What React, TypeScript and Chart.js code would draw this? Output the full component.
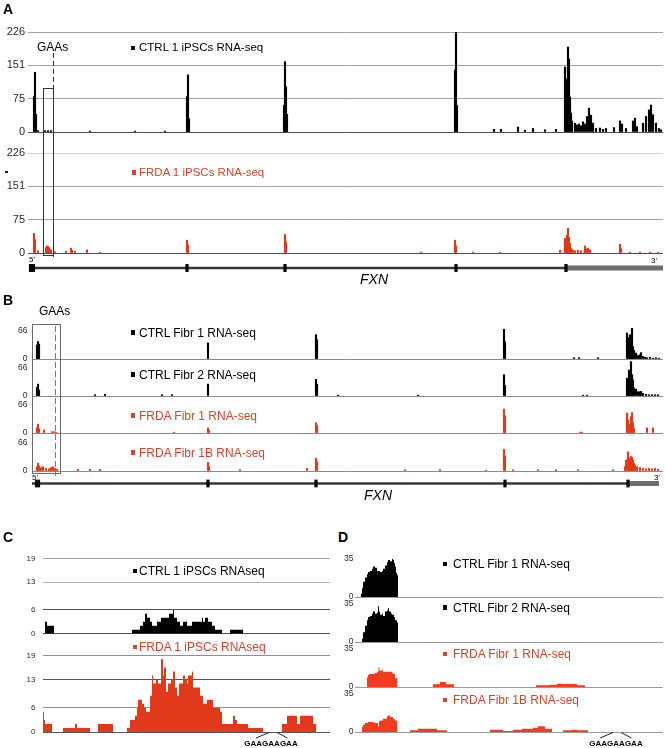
import React, { useEffect, useRef } from 'react';
import { Chart, registerables } from 'chart.js';

Chart.register(...registerables);

// ---------------- DATA ----------------
// Panel A: FXN locus coverage in iPSCs (browser bins along the gene)
const aTicks = [0, 75, 151, 226];
const aTrackNames = ['CTRL 1 iPSCs RNA-seq', 'FRDA 1 iPSCs RNA-seq'];
const aCtrlBins = [6, 7, 8, 10, 17, 20, 23, 62, 107, 137, 159, 160, 161, 256, 257, 258, 259, 427, 428, 429, 466, 473, 490, 497, 505, 517, 528, 537, 538, 539, 540, 541, 542, 543, 544, 547, 549, 551, 553, 555, 557, 559, 561, 563, 565, 568, 572, 575, 578, 586, 592, 594, 598, 605, 607, 609, 615, 618, 621, 623, 625, 628, 631, 633];
const aCtrlCov = [80, 135, 40, 3, 3, 3, 3, 2, 2, 2, 80, 129, 30, 60, 159, 102, 40, 140, 226, 60, 6, 6, 11, 4, 8, 5, 6, 147, 120, 79, 192, 165, 79, 43, 25, 20, 16, 18, 14, 23, 18, 35, 54, 38, 20, 8, 9, 6, 8, 10, 25, 18, 8, 25, 31, 12, 20, 35, 50, 61, 39, 20, 8, 5];
const aFrdaBins = [6, 7, 10, 18, 19, 20, 21, 22, 23, 27, 38, 43, 44, 47, 59, 72, 159, 160, 257, 258, 393, 427, 428, 445, 472, 532, 537, 538, 539, 540, 541, 542, 543, 545, 547, 550, 553, 557, 558, 560, 562, 592, 593, 602, 612, 622, 630];
const aFrdaCov = [44, 30, 5, 12, 16, 15, 12, 8, 6, 3, 4, 11, 6, 4, 7, 2, 29, 18, 42, 25, 2, 29, 16, 2, 2, 6, 33, 25, 40, 56, 35, 22, 11, 7, 5, 6, 5, 16, 9, 11, 7, 20, 10, 2, 2, 2, 2];
const aExons = [159, 257, 428, 538];

// Panel B: fibroblasts
const bTicks = [0, 66];
const bTrackNames = ['CTRL Fibr 1 RNA-seq', 'CTRL Fibr 2 RNA-seq', 'FRDA Fibr 1 RNA-seq', 'FRDA Fibr 1B RNA-seq'];
const b1Bins = [5, 6, 7, 176, 284, 285, 472, 473, 542, 547, 566, 595, 596, 597, 598, 599, 600, 601, 602, 604, 606, 608, 609, 611, 613, 615, 618, 621, 624, 627];
const b1Cov = [33, 41, 35, 38, 57, 45, 70, 40, 3, 3, 3, 61, 40, 50, 57, 40, 72, 29, 20, 14, 8, 10, 15, 6, 4, 3, 4, 2, 3, 2];
const b2Bins = [5, 6, 7, 63, 73, 130, 140, 176, 284, 285, 306, 386, 472, 473, 551, 555, 595, 596, 597, 598, 599, 600, 601, 602, 604, 606, 608, 609, 611, 614, 617, 620, 623, 626];
const b2Cov = [20, 28, 14, 3, 4, 3, 3, 28, 39, 28, 2, 2, 50, 25, 2, 2, 42, 35, 61, 45, 81, 50, 38, 19, 16, 10, 10, 11, 6, 4, 3, 3, 3, 3];
const b3Bins = [5, 6, 7, 12, 20, 22, 24, 142, 176, 177, 284, 285, 472, 473, 548, 550, 595, 596, 597, 598, 599, 600, 601, 602, 615, 621];
const b3Cov = [12, 21, 10, 7, 3, 3, 2, 2, 12, 6, 24, 18, 56, 40, 2, 2, 47, 31, 15, 20, 38, 48, 24, 10, 12, 12];
const b4Bins = [5, 6, 7, 9, 11, 14, 17, 19, 21, 23, 25, 46, 58, 68, 176, 177, 208, 275, 284, 285, 373, 408, 454, 472, 473, 481, 506, 524, 546, 581, 593, 594, 596, 597, 598, 599, 600, 601, 602, 603, 605, 608, 611, 614, 617, 620, 623, 626];
const b4Cov = [10, 18, 12, 8, 10, 6, 5, 8, 10, 6, 4, 4, 4, 4, 20, 10, 3, 6, 30, 22, 3, 3, 2, 51, 35, 3, 3, 3, 3, 3, 10, 26, 45, 30, 22, 34, 32, 26, 18, 14, 10, 8, 6, 5, 6, 5, 6, 4];
const bExons = [176, 284, 473, 596];

// Panel C: zoom on GAA region, iPSCs (step starts, coverage)
const cTicks = [0, 6, 13, 19];
const cTrackNames = ['CTRL 1 iPSCs RNAseq', 'FRDA 1 iPSCs RNAseq'];
const cCtrlPos = [2, 4, 11, 89, 97, 100, 102, 104, 107, 109, 114, 118, 126, 130, 131, 134, 137, 140, 144, 149, 159, 160, 162, 165, 169, 172, 179, 187, 200];
const cCtrlCov = [3, 2, 0, 1, 2, 3, 5, 4, 3, 2, 3, 4, 5, 6, 4, 3, 2, 3, 2, 3, 4, 3, 4, 3, 2, 1, 0, 1, 0];
const cFrdaPos = [0, 1, 2, 9, 20, 32, 34, 47, 55, 70, 84, 87, 92, 94, 95, 99, 101, 103, 107, 109, 110, 113, 115, 118, 120, 121, 123, 125, 128, 130, 132, 134, 136, 140, 142, 144, 145, 149, 150, 152, 157, 160, 164, 170, 177, 179, 190, 192, 194, 205, 220, 239, 244, 254, 257, 270, 273];
const cFrdaCov = [5, 3, 2, 0, 1, 2, 1, 0, 2, 0, 1, 3, 4, 6, 8, 7, 6, 5, 9, 14, 12, 13, 12, 18, 14, 16, 10, 12, 13, 15, 11, 9, 12, 14, 13, 12, 14, 15, 11, 11, 9, 7, 8, 6, 5, 2, 4, 3, 2, 1, 0, 2, 4, 2, 4, 2, 0];
const cGaaSite = 230;

// Panel D: zoom on GAA region, fibroblasts
const dTicks = [0, 35];
const dTrackNames = ['CTRL Fibr 1 RNA-seq', 'CTRL Fibr 2 RNA-seq', 'FRDA Fibr 1 RNA-seq', 'FRDA Fibr 1B RNA-seq'];
const dCtrl1Pos = [6, 7, 8, 10, 12, 13, 15, 17, 18, 20, 22, 23, 25, 27, 28, 30, 32, 33, 35, 37, 38, 39, 40, 41, 42, 43];
const dCtrl1Cov = [3, 8, 14, 18, 21, 23, 24, 26, 28, 27, 24, 24, 23, 24, 26, 29, 32, 34, 33, 35, 34, 31, 28, 22, 20, 0];
const dCtrl2Pos = [7, 8, 10, 12, 13, 15, 17, 18, 20, 22, 23, 24, 25, 27, 28, 30, 32, 33, 34, 36, 37, 39, 40, 42, 43];
const dCtrl2Cov = [3, 9, 15, 20, 23, 24, 26, 28, 26, 27, 33, 28, 25, 26, 24, 28, 29, 31, 28, 26, 25, 23, 20, 18, 0];
const dFrda1Pos = [12, 13, 14, 17, 20, 22, 23.5, 24.5, 25, 27, 28, 30, 33, 37, 38, 40, 41.7, 42.3, 78, 85, 91, 99, 181, 195, 202, 208, 222, 230];
const dFrda1Cov = [9, 11, 12, 12, 13, 14, 18, 15, 15, 16, 14, 14, 14, 13, 12, 8, 9, 0, 2.5, 4.5, 2.5, 0, 1.5, 2, 3, 2.8, 1.5, 0];
const dFrda1BPos = [7, 8, 10, 13, 17, 20, 23, 24, 25, 28, 32, 33, 35, 38, 40, 42.3, 55, 63, 82, 92, 135, 148, 158, 167, 178, 183, 190, 197, 208, 217, 222, 233];
const dFrda1BCov = [4.6, 7, 8.3, 9.2, 9, 8.3, 5, 10, 10.7, 12.3, 14.4, 15.3, 13.8, 12.3, 10.7, 0, 1.5, 3, 1.5, 0, 2, 1, 2, 3, 4, 5.2, 3, 0, 1.5, 2, 1.5, 0];
const dGaaSite = 262;

// ---------------- STYLE / LAYOUT ----------------
const FONT = "'Liberation Sans', Arial, Helvetica, sans-serif";
const BLACK = '#000000';
const RED = '#e03a1a';
const RED_D = '#f03d1d';
const RED_TXT = '#d5432a';
const NONE = 'rgba(0,0,0,0)';

const gaaSitePlugin = {
  id: 'gaaSite',
  afterDatasetsDraw(chart: any, _a: any, opts: any) {
    if (!opts || opts.site == null) return;
    const { ctx, chartArea } = chart;
    const x = chart.scales.x.getPixelForValue(opts.site);
    const y = chartArea.bottom;
    ctx.save();
    ctx.strokeStyle = '#222';
    ctx.lineWidth = 1;
    ctx.beginPath();
    ctx.moveTo(x - 4, y + 0.5);
    ctx.lineTo(x - 17, y + 6);
    ctx.moveTo(x + 4, y + 0.5);
    ctx.lineTo(x + 14.5, y + 6);
    ctx.stroke();
    ctx.restore();
  },
};

function trackConfig(s: any) {
  const data = s.pos.map((x: number, i: number) => ({ x, y: s.cov[i] }));
  const isBar = s.kind === 'bar';
  return {
    type: isBar ? 'bar' : 'line',
    data: {
      datasets: [
        isBar
          ? { data, backgroundColor: s.color, borderWidth: 0, barThickness: s.barWidth, grouped: false }
          : { data, backgroundColor: s.color, borderColor: NONE, borderWidth: 0, fill: 'origin', stepped: 'before', pointRadius: 0, tension: 0 },
      ],
    },
    options: {
      responsive: false,
      animation: false,
      events: [],
      layout: {
        padding: {
          left: 0,
          top: s.areaTop - s.top,
          right: s.left + s.width - s.areaRight,
          bottom: s.top + s.height - s.areaBottom,
        },
      },
      plugins: { legend: { display: false }, tooltip: { enabled: false }, gaaSite: { site: s.site } },
      scales: {
        x: { type: 'linear', min: 0, max: s.xMax, display: false, offset: false },
        y: {
          type: 'linear',
          min: 0,
          max: s.yMax,
          afterFit: (sc: any) => { sc.width = s.areaLeft - s.left; },
          afterBuildTicks: (sc: any) => { sc.ticks = s.ticks.map((v: number) => ({ value: v })); },
          ticks: { autoSkip: false, padding: s.tickPad, color: '#2a2a2a', font: { family: FONT, size: s.tickSize } },
          grid: { drawTicks: false, lineWidth: 1, color: (c: any) => s.grid(c.tick ? c.tick.value : 0) },
          border: { display: false },
        },
      },
    },
    plugins: [gaaSitePlugin],
  };
}

function geneConfig(g: any) {
  return {
    type: 'bar',
    data: {
      datasets: [
        { type: 'bar', data: [{ x: g.exon1, y: [-1, 1] }], backgroundColor: '#0a0a0a', barThickness: g.exon1Width, grouped: false },
        { type: 'bar', data: g.exons.map((x: number) => ({ x, y: [-1, 1] })), backgroundColor: '#0a0a0a', barThickness: 2.6, grouped: false },
        { type: 'line', data: [{ x: g.utrStart, y: 0 }, { x: g.end, y: 0 }], borderColor: '#6f6f6f', borderWidth: 5, pointRadius: 0, borderCapStyle: 'butt' },
        { type: 'line', data: [{ x: g.start, y: 0 }, { x: g.utrStart, y: 0 }], borderColor: '#383838', borderWidth: 2.3, pointRadius: 0 },
      ],
    },
    options: {
      responsive: false,
      animation: false,
      events: [],
      layout: {
        padding: {
          left: g.areaLeft - g.left,
          top: g.areaTop - g.top,
          right: g.left + g.width - g.areaRight,
          bottom: g.top + g.height - g.areaBottom,
        },
      },
      plugins: { legend: { display: false }, tooltip: { enabled: false } },
      scales: {
        x: { type: 'linear', min: 0, max: g.xMax, display: false, offset: false },
        y: { type: 'linear', min: -1, max: 1, display: false },
      },
    },
  };
}

const aGrid = (v: number) => (v === 0 ? '#4d4d4d' : '#a3a3a3');
const aGrid2 = (v: number) => (v === 0 ? '#4d4d4d' : v === 226 ? '#cfcfcf' : '#a3a3a3');
const bGrid = (v: number) => (v === 0 ? '#8a8a8a' : NONE);
const cGrid1 = (v: number) => (v === 0 || v === 6 ? '#505050' : v === 13 ? '#b3b3b3' : '#a0a0a0');
const cGrid2 = (v: number) => (v === 0 || v === 13 ? '#555555' : '#8f8f8f');
const dGrid = (v: number) => (v === 0 ? '#9a9a9a' : NONE);

const A_COMMON = { left: 0, width: 666, height: 125, areaLeft: 28, areaRight: 663, xMax: 635, yMax: 226, ticks: aTicks, tickSize: 11, tickPad: 3, kind: 'bar', barWidth: 1.5 };
const B_COMMON = { left: 0, width: 666, height: 57, areaLeft: 32, areaRight: 663, xMax: 631, yMax: 87, ticks: bTicks, tickSize: 8.5, tickPad: 4.5, kind: 'bar', barWidth: 1.5, grid: bGrid };
const C_COMMON = { left: 0, width: 333, areaLeft: 43, areaRight: 330, xMax: 287, yMax: 19, ticks: cTicks, tickSize: 8, tickPad: 7.5, kind: 'step' };
const D_COMMON = { left: 333, width: 333, areaLeft: 355, areaRight: 663, xMax: 308, yMax: 35, ticks: dTicks, tickSize: 8.5, tickPad: 1.5, kind: 'step', grid: dGrid };

const bZero = [359, 396, 433, 471];
const dZero = [597, 642, 687, 732];
const bSeries = [[b1Bins, b1Cov, BLACK], [b2Bins, b2Cov, BLACK], [b3Bins, b3Cov, RED], [b4Bins, b4Cov, RED]];
const dSeries = [[dCtrl1Pos, dCtrl1Cov, BLACK], [dCtrl2Pos, dCtrl2Cov, BLACK], [dFrda1Pos, dFrda1Cov, RED_D], [dFrda1BPos, dFrda1BCov, RED_D]];

const TRACKS: any[] = [
  { ...A_COMMON, top: 20, areaTop: 32, areaBottom: 132, pos: aCtrlBins, cov: aCtrlCov, color: BLACK, grid: aGrid },
  { ...A_COMMON, top: 140, areaTop: 153, areaBottom: 253, pos: aFrdaBins, cov: aFrdaCov, color: '#dc3a1c', grid: aGrid2 },
  ...bSeries.map((s, i) => ({ ...B_COMMON, top: bZero[i] - 47, areaTop: bZero[i] - 37, areaBottom: bZero[i], pos: s[0], cov: s[1], color: s[2] })),
  { ...C_COMMON, top: 546, height: 100, areaTop: 556, areaBottom: 636, pos: cCtrlPos, cov: cCtrlCov, color: BLACK, grid: cGrid1 },
  { ...C_COMMON, top: 643, height: 105, areaTop: 653, areaBottom: 732, pos: cFrdaPos, cov: cFrdaCov, color: RED, grid: cGrid2, site: cGaaSite },
  ...dSeries.map((s, i) => ({ ...D_COMMON, top: dZero[i] - 48, height: i === 3 ? 62 : 58, areaTop: dZero[i] - 38, areaBottom: dZero[i], pos: s[0], cov: s[1], color: s[2], site: i === 3 ? dGaaSite : undefined })),
];

const GENES: any[] = [
  { left: 0, top: 255, width: 666, height: 26, areaLeft: 28, areaRight: 663, areaTop: 264, areaBottom: 272, xMax: 635, start: 1, exon1: 4, exon1Width: 5.5, exons: aExons, utrStart: 538, end: 635 },
  { left: 0, top: 470, width: 666, height: 27, areaLeft: 32, areaRight: 663, areaTop: 479.5, areaBottom: 487.5, xMax: 631, start: 0, exon1: 5.5, exon1Width: 4.5, exons: bExons, utrStart: 597, end: 627 },
];

// ---------------- COMPONENTS ----------------
function ChartCanvas({ box, make }: { box: any; make: () => any }) {
  const ref = useRef<HTMLCanvasElement>(null);
  useEffect(() => {
    const c = ref.current;
    if (!c) return;
    const chart = new Chart(c, make());
    return () => chart.destroy();
  }, []);
  return (
    <canvas
      ref={ref}
      width={box.width}
      height={box.height}
      style={{ position: 'absolute', left: box.left, top: box.top, width: box.width, height: box.height }}
    />
  );
}

function T({ x, cy, size, text, color = '#000', bold = false, italic = false, center = false }: any) {
  return (
    <div
      style={{
        position: 'absolute',
        left: x,
        top: cy - size * 0.49,
        fontSize: size,
        lineHeight: `${size}px`,
        fontFamily: FONT,
        color,
        fontWeight: bold ? 700 : 400,
        fontStyle: italic ? 'italic' : 'normal',
        whiteSpace: 'nowrap',
        transform: center ? 'translateX(-50%)' : undefined,
      }}
    >
      {text}
    </div>
  );
}

function TrackLabel({ sq, x, cy, text, color, size }: any) {
  return (
    <>
      <div style={{ position: 'absolute', left: sq, top: cy - 2.2, width: 3.5, height: 4.5, background: color }} />
      <T x={x} cy={cy} size={size} text={text} color={color} />
    </>
  );
}

function Dashed({ x, top, height, color, dash, gap, w }: any) {
  return (
    <div
      style={{
        position: 'absolute',
        left: x,
        top,
        width: w,
        height,
        background: `repeating-linear-gradient(to bottom, ${color} 0px, ${color} ${dash}px, transparent ${dash}px, transparent ${dash + gap}px)`,
      }}
    />
  );
}

export default function App() {
  const bCy = [332.5, 374.5, 415.5, 452.5];
  const dCy = [564, 607.5, 654, 700];
  const nameColor = (n: string) => (n.startsWith('FRDA') ? RED_TXT : '#000');
  return (
    <div style={{ position: 'absolute', left: 0, top: 0, width: 666, height: 748, background: '#fff', overflow: 'hidden' }}>
      {TRACKS.map((t, i) => (
        <ChartCanvas key={`t${i}`} box={t} make={() => trackConfig(t)} />
      ))}
      {GENES.map((g, i) => (
        <ChartCanvas key={`g${i}`} box={g} make={() => geneConfig(g)} />
      ))}

      {/* GAA boxes and dashed repeat position */}
      <div style={{ position: 'absolute', left: 43, top: 88, width: 11, height: 168, border: '1px solid #333', boxSizing: 'border-box' }} />
      <Dashed x={53} top={53} height={204} w={1.3} color="#333" dash={5} gap={3} />
      <div style={{ position: 'absolute', left: 32, top: 324, width: 28.5, height: 150, border: '1.2px solid #6a6a6a', boxSizing: 'border-box' }} />
      <Dashed x={54.8} top={326} height={153} w={1.5} color="#7a7a7a" dash={6} gap={3} />
      <div style={{ position: 'absolute', left: 5, top: 171.2, width: 2.5, height: 1.6, background: '#222' }} />

      {/* Panel letters */}
      <T x={3} cy={9} size={14} text="A" bold />
      <T x={3} cy={299.5} size={14} text="B" bold />
      <T x={3} cy={537} size={14} text="C" bold />
      <T x={338} cy={537} size={14} text="D" bold />

      <T x={37} cy={46.5} size={12} text="GAAs" />
      <T x={39} cy={311} size={12} text="GAAs" />

      {/* Track labels */}
      <TrackLabel sq={131} x={139} cy={48} size={11.5} text={aTrackNames[0]} color={nameColor(aTrackNames[0])} />
      <TrackLabel sq={132} x={139} cy={172.5} size={11.5} text={aTrackNames[1]} color={nameColor(aTrackNames[1])} />
      {bTrackNames.map((n, i) => (
        <TrackLabel key={`bl${i}`} sq={131} x={139} cy={bCy[i]} size={12} text={n} color={nameColor(n)} />
      ))}
      <TrackLabel sq={133} x={139} cy={571} size={12} text={cTrackNames[0]} color={nameColor(cTrackNames[0])} />
      <TrackLabel sq={133} x={139} cy={647} size={12} text={cTrackNames[1]} color={nameColor(cTrackNames[1])} />
      {dTrackNames.map((n, i) => (
        <TrackLabel key={`dl${i}`} sq={443} x={453} cy={dCy[i]} size={12} text={n} color={nameColor(n)} />
      ))}

      {/* Gene annotation text */}
      <T x={29} cy={259.5} size={8} text="5'" />
      <T x={651} cy={261} size={8} text="3'" />
      <T x={360} cy={278.5} size={14} text="FXN" italic />
      <T x={32} cy={477.5} size={8} text="5'" />
      <T x={654} cy={477.5} size={8} text="3'" />
      <T x={364} cy={494.7} size={14} text="FXN" italic />

      <T x={271} cy={743.5} size={8} text="GAAGAAGAA" bold center />
      <T x={616} cy={743.5} size={8} text="GAAGAAGAA" bold center />
    </div>
  );
}
